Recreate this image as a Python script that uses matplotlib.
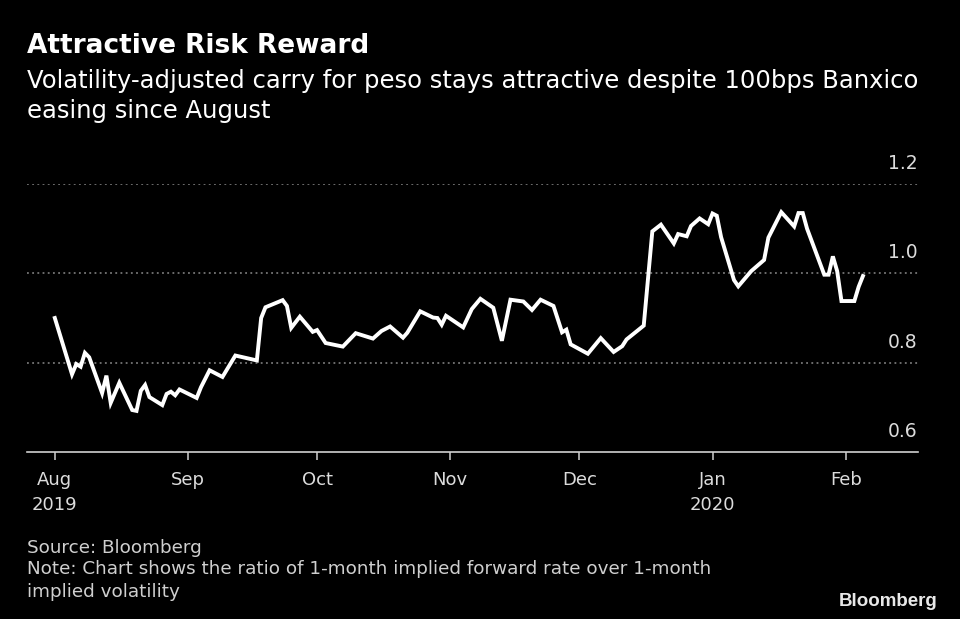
import numpy as np
import pandas as pd
import matplotlib

matplotlib.use('Agg')
import matplotlib.pyplot as plt
import matplotlib.dates as mdates
from matplotlib.transforms import offset_copy

# (date, ratio)
dates = pd.to_datetime([
    "2019-08-01", "2019-08-05", "2019-08-06", "2019-08-07", "2019-08-08", "2019-08-09",
    "2019-08-12", "2019-08-13", "2019-08-14", "2019-08-16", "2019-08-19", "2019-08-20",
    "2019-08-21", "2019-08-22", "2019-08-23", "2019-08-26", "2019-08-27", "2019-08-28",
    "2019-08-29", "2019-08-30", "2019-09-03", "2019-09-04", "2019-09-06", "2019-09-09",
    "2019-09-12", "2019-09-17", "2019-09-18", "2019-09-19", "2019-09-23", "2019-09-24",
    "2019-09-25", "2019-09-27", "2019-09-30", "2019-10-01", "2019-10-03", "2019-10-07",
    "2019-10-10", "2019-10-14", "2019-10-16", "2019-10-18", "2019-10-21", "2019-10-22",
    "2019-10-25", "2019-10-28", "2019-10-29", "2019-10-30", "2019-10-31", "2019-11-04",
    "2019-11-06", "2019-11-08", "2019-11-11", "2019-11-13", "2019-11-15", "2019-11-18",
    "2019-11-20", "2019-11-22", "2019-11-25", "2019-11-27", "2019-11-28", "2019-11-29",
    "2019-12-03", "2019-12-06", "2019-12-09", "2019-12-11", "2019-12-12", "2019-12-16",
    "2019-12-18", "2019-12-20", "2019-12-23", "2019-12-24", "2019-12-26", "2019-12-27",
    "2019-12-29", "2019-12-31", "2020-01-01", "2020-01-02", "2020-01-03", "2020-01-06",
    "2020-01-07", "2020-01-10", "2020-01-13", "2020-01-14", "2020-01-17", "2020-01-20",
    "2020-01-21", "2020-01-22", "2020-01-23", "2020-01-27", "2020-01-28", "2020-01-29",
    "2020-01-30", "2020-01-31", "2020-02-03", "2020-02-04", "2020-02-05",
])
carry_ratio = [
    0.900, 0.774, 0.797, 0.791, 0.822, 0.812,
    0.732, 0.771, 0.710, 0.755, 0.694, 0.692,
    0.737, 0.750, 0.723, 0.705, 0.730, 0.735,
    0.727, 0.740, 0.721, 0.745, 0.783, 0.768,
    0.816, 0.805, 0.900, 0.924, 0.940, 0.927,
    0.878, 0.903, 0.869, 0.873, 0.844, 0.836,
    0.866, 0.854, 0.871, 0.881, 0.856, 0.867,
    0.915, 0.901, 0.900, 0.885, 0.905, 0.879,
    0.920, 0.943, 0.923, 0.849, 0.941, 0.937,
    0.918, 0.941, 0.927, 0.868, 0.874, 0.841,
    0.820, 0.855, 0.824, 0.837, 0.852, 0.883,
    1.094, 1.109, 1.067, 1.088, 1.083, 1.106,
    1.123, 1.110, 1.134, 1.129, 1.081, 0.985,
    0.971, 1.005, 1.030, 1.080, 1.137, 1.105,
    1.135, 1.135, 1.100, 0.997, 0.997, 1.038,
    1.005, 0.938, 0.938, 0.970, 0.994,
]

month_ticks = pd.to_datetime(["2019-08-01", "2019-09-01", "2019-10-01", "2019-11-01",
                              "2019-12-01", "2020-01-01", "2020-02-01"])
month_labels = ["Aug\n2019", "Sep", "Oct", "Nov", "Dec", "Jan\n2020", "Feb"]
y_ticks = [0.6, 0.8, 1.0, 1.2]
y_labels = ["0.6", "0.8", "1.0", "1.2"]

bg = "black"
fig = plt.figure(figsize=(9.6, 6.19), dpi=100, facecolor=bg)
ax = fig.add_axes([0.028, 0.2698, 0.928, 0.4329], facecolor=bg)

ax.plot(dates, carry_ratio, color="white", lw=2.8, solid_joinstyle="miter", zorder=3)

ax.set_xlim(pd.Timestamp("2019-07-25 12:00"), pd.Timestamp("2020-02-17 18:00"))
ax.set_ylim(0.6, 1.2)

for v in y_ticks[1:]:
    ax.axhline(v, color="#8a8a8a", lw=1.1, ls=(0, (1.2, 2.2)), zorder=1)

for sp in ["top", "left", "right"]:
    ax.spines[sp].set_visible(False)
ax.spines["bottom"].set_color("#d0d0d0")
ax.spines["bottom"].set_linewidth(1.2)

ax.set_xticks(month_ticks)
ax.set_xticklabels(month_labels, linespacing=1.45)
ax.tick_params(axis="x", colors="#d0d0d0", length=6, width=1.1, pad=8,
               labelsize=13, labelcolor="#dcdcdc")
ax.set_yticks([])

lbl_tr = offset_copy(ax.get_yaxis_transform(), fig=fig, x=0, y=8, units="points")
for v, s in zip(y_ticks, y_labels):
    ax.text(1.0, v, s, transform=lbl_tr, ha="right", va="bottom",
            fontsize=13.5, color="#dcdcdc")

fig.text(0.028, 0.925, "Attractive Risk Reward", fontsize=19, fontweight="bold",
         color="white", va="center", ha="left")
fig.text(0.028, 0.869, "Volatility-adjusted carry for peso stays attractive despite 100bps Banxico",
         fontsize=17.5, color="white", va="center", ha="left")
fig.text(0.028, 0.821, "easing since August", fontsize=17.5, color="white", va="center", ha="left")

fig.text(0.028, 0.115, "Source: Bloomberg", fontsize=13.2, color="#cfcfcf", va="center")
fig.text(0.028, 0.080, "Note: Chart shows the ratio of 1-month implied forward rate over 1-month",
         fontsize=13.2, color="#cfcfcf", va="center")
fig.text(0.028, 0.043, "implied volatility", fontsize=13.2, color="#cfcfcf", va="center")
fig.text(0.977, 0.028, "Bloomberg", fontsize=13.5, fontweight="bold", color="#e8e8e8",
         ha="right", va="center", family="Liberation Sans")

fig.savefig("out.png", dpi=100, facecolor=bg)
